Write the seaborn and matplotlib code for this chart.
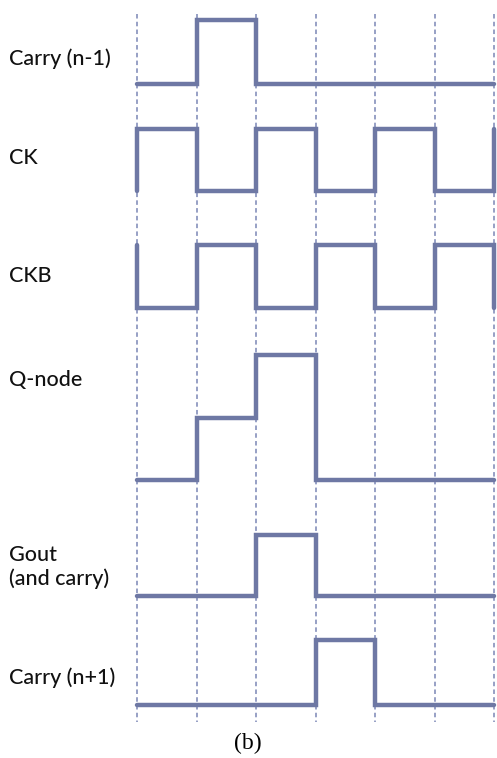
import numpy as np
import pandas as pd
import matplotlib
matplotlib.use("Agg")
import matplotlib.pyplot as plt
import seaborn as sns

sns.set_theme(style="white")
plt.rcParams['font.family'] = ['Lato', 'DejaVu Sans']

# time grid (clock edges) and signal levels per interval
t_edges = [0, 1, 2, 3, 4, 5, 6]
names = ["Carry (n-1)", "CK", "CKB", "Q-node", "Gout\n(and carry)", "Carry (n+1)"]
carry_prev = [0, 1, 0, 0, 0, 0]
ck = [1, 0, 1, 0, 1, 0]
ckb = [0, 1, 0, 1, 0, 1]
q_node = [0, 0.5, 1, 0, 0, 0]
gout = [0, 0, 1, 0, 0, 0]
carry_next = [0, 0, 0, 1, 0, 0]
start_vals = [0, 0, 1, 0, 0, 0]
end_vals = [0, 1, 0, 0, 0, 0]

# layout: row baseline (low level) and swing, in figure pixel units
row_low = [84, 191, 308, 480, 596, 705]
row_swing = [64, 62, 63, 125, 61, 65]
label_y = [59, 158, 276, 380, 567, 678]


def steps(levels, start, end):
    x, y = [t_edges[0]], [start]
    for i, v in enumerate(levels):
        x += [t_edges[i], t_edges[i + 1]]
        y += [v, v]
    x.append(t_edges[-1])
    y.append(end)
    return x, y


W, H = 497, 758
fig = plt.figure(figsize=(W / 100, H / 100), dpi=100)
ax = fig.add_axes([0, 0, 1, 1])
x0, dx = 137, 59.5
ax.set_xlim(-x0 / dx, (W - x0) / dx)
ax.set_ylim(H, 0)
ax.axis("off")

line_col = "#6e78a4"
for t in t_edges:
    ax.plot([t, t], [14, 722], color="#8f98c0", lw=1.3, ls=(0, (2.5, 1.8)), zorder=1)

signals = [carry_prev, ck, ckb, q_node, gout, carry_next]
frames = []
for k, lv in enumerate(signals):
    x, y = steps(lv, start_vals[k], end_vals[k])
    frames.append(pd.DataFrame({"t": x,
                                "y": row_low[k] - np.array(y) * row_swing[k],
                                "sig": names[k]}))
df = pd.concat(frames, ignore_index=True)
for name, g in df.groupby("sig", sort=False):
    sns.lineplot(data=g, x="t", y="y", sort=False, estimator=None, ax=ax,
                 color=line_col, lw=3.2, solid_joinstyle="miter", zorder=3)

for k, name in enumerate(names):
    ax.text(-x0 / dx + 9 / dx, label_y[k], name, fontsize=15.5, color="#111111",
            va="center", ha="left", linespacing=1.2, fontweight="medium")

ax.text((248 - x0) / dx, 743, "(b)", fontsize=17, family="Liberation Serif",
        ha="center", va="center", color="black")
ax.set_xlabel("")
ax.set_ylabel("")

fig.savefig("out.png", dpi=100)
